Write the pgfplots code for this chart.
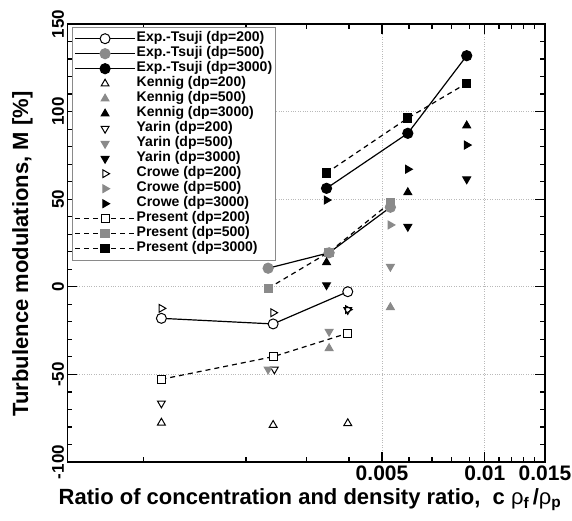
\documentclass[border=0pt]{standalone}
\usepackage{fontspec}
\setmainfont{Liberation Sans}
\usepackage{pgfplots}
\pgfplotsset{compat=1.18}

\definecolor{mgray}{RGB}{138,138,138}

\begin{document}
\begin{tikzpicture}
\useasboundingbox (-67.5pt,-59pt) rectangle (504.5pt,462pt);
\begin{axis}[
  at={(0,0)}, anchor=south west,
  scale only axis, width=477.5pt, height=438pt,
  xmode=log, xmin=0.0006, xmax=0.015,
  ymin=-100, ymax=150,
  xtick={0.005,0.01,0.015}, xticklabels={0.005,0.01,0.015},
  minor xtick={0.001,0.002,0.003,0.004,0.006,0.007,0.008,0.009,0.011,0.012,0.013,0.014},
  ytick={-100,-50,0,50,100,150},
  minor ytick={-90,-80,...,140},
  tick align=inside, tick pos=both,
  major tick length=10pt, minor tick length=5pt,
  axis line style={line width=1.6pt},
  tick style={black, line width=1.2pt},
  grid=major, major grid style={gray!55, dotted, line width=0.7pt},
  /pgf/number format/assume math mode=true,
  xticklabel style={font=\fontsize{21}{24}\selectfont\bfseries},
  yticklabel style={rotate=90, anchor=south, font=\fontsize{17}{20}\selectfont\bfseries},
  xlabel={Ratio of concentration and density ratio,~~c {\mdseries ρ}\textsubscript{f}\,/{\mdseries ρ}\textsubscript{p}},
  ylabel={Turbulence modulations, M [\%]},
  xlabel style={at={(rel axis cs:0.508,0)}, anchor=north, inner sep=0pt, yshift=-26pt,
    font=\fontsize{22}{25}\selectfont\bfseries},
  ylabel style={at={(rel axis cs:-0.0942,0.475)}, anchor=center, inner sep=0pt,
    font=\fontsize{22}{26}\selectfont\bfseries},
  every axis plot/.append style={line width=1pt},
  legend image code/.code={\draw[mark repeat=2,mark phase=2,#1] plot coordinates {(0pt,0pt)(30pt,0pt)(60pt,0pt)};},
  legend cell align=left,
  legend style={at={(rel axis cs:0.0094,0.9938)}, anchor=north west,
    draw=mgray, line width=1pt, fill=white, inner xsep=2pt, inner ysep=4pt,
    font=\fontsize{14}{15}\selectfont\bfseries,
    nodes={inner sep=1pt, text height=9.5pt, text depth=3.5pt},
    row sep=0pt},
]
% Exp. - Tsuji
\addplot[black, line width=1.2pt, mark=*, mark size=5pt, mark options={draw=black, fill=white, line width=1pt}]
  coordinates {(0.00113,-18.0)(0.0024,-21.2)(0.00397,-2.8)};
\addlegendentry{Exp.-Tsuji (dp=200)}
\addplot[black, line width=1.2pt, mark=*, mark size=5pt, mark options={draw=mgray, fill=mgray}]
  coordinates {(0.00232,10.6)(0.0035,19.4)(0.00529,45.4)};
\addlegendentry{Exp.-Tsuji (dp=500)}
\addplot[black, line width=1.2pt, mark=*, mark size=5pt, mark options={draw=black, fill=black}]
  coordinates {(0.00344,56.2)(0.00595,87.6)(0.00885,131.9)};
\addlegendentry{Exp.-Tsuji (dp=3000)}
% Kennig
\addplot[only marks, black, mark=triangle, mark size=4.5pt]
  coordinates {(0.00113,-77.6)(0.0024,-78.9)(0.00397,-77.9)};
\addlegendentry{Kennig (dp=200)}
\addplot[only marks, mgray, mark=triangle*, mark size=4.5pt]
  coordinates {(0.0035,-35.1)(0.00529,-11.7)};
\addlegendentry{Kennig (dp=500)}
\addplot[only marks, black, mark=triangle*, mark size=4.5pt]
  coordinates {(0.00344,13.9)(0.00595,53.9)(0.00885,92.0)};
\addlegendentry{Kennig (dp=3000)}
% Yarin
\addplot[only marks, black, mark=triangle, mark size=4.5pt, mark options={rotate=180}]
  coordinates {(0.00113,-66.5)(0.00242,-47.1)(0.00397,-13.2)};
\addlegendentry{Yarin (dp=200)}
\addplot[only marks, mgray, mark=triangle*, mark size=4.5pt, mark options={rotate=180}]
  coordinates {(0.00232,-47.1)(0.0035,-25.6)(0.00529,11.5)};
\addlegendentry{Yarin (dp=500)}
\addplot[only marks, black, mark=triangle*, mark size=4.5pt, mark options={rotate=180}]
  coordinates {(0.00344,1.0)(0.00595,34.3)(0.00885,61.4)};
\addlegendentry{Yarin (dp=3000)}
% Crowe
\addplot[only marks, black, mark=triangle, mark size=4.5pt, mark options={rotate=-90}]
  coordinates {(0.00113,-12.3)(0.0024,-14.8)(0.00397,-13.0)};
\addlegendentry{Crowe (dp=200)}
\addplot[only marks, mgray, mark=triangle*, mark size=4.5pt, mark options={rotate=-90}]
  coordinates {(0.00232,10.6)(0.0035,19.6)(0.00529,35.3)};
\addlegendentry{Crowe (dp=500)}
\addplot[only marks, black, mark=triangle*, mark size=4.5pt, mark options={rotate=-90}]
  coordinates {(0.00344,49.5)(0.00595,67.1)(0.00885,80.9)};
\addlegendentry{Crowe (dp=3000)}
% Present
\addplot[black, line width=1.2pt, dash pattern=on 5pt off 4pt, mark=square*, mark size=4pt, mark options={solid, draw=black, fill=white, line width=1pt}]
  coordinates {(0.00113,-52.8)(0.0024,-39.9)(0.00397,-26.5)};
\addlegendentry{Present (dp=200)}
\addplot[black, line width=1.2pt, dash pattern=on 5pt off 4pt, mark=square*, mark size=4pt, mark options={solid, draw=mgray, fill=mgray}]
  coordinates {(0.00232,-0.9)(0.0035,19.8)(0.00529,48.0)};
\addlegendentry{Present (dp=500)}
\addplot[black, line width=1.2pt, dash pattern=on 5pt off 4pt, mark=square*, mark size=4pt, mark options={solid, draw=black, fill=black}]
  coordinates {(0.00344,65.0)(0.00595,96.3)(0.00885,116.2)};
\addlegendentry{Present (dp=3000)}
\end{axis}
\end{tikzpicture}
\end{document}
